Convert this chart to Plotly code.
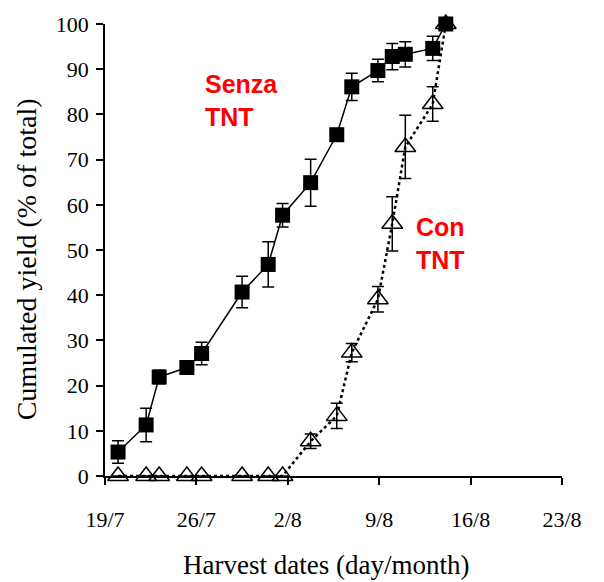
import plotly.graph_objects as go

# Days after 19/7 for each harvest
harvest_days = [1.0, 3.15, 4.15, 6.27, 7.4, 10.5, 12.5, 13.6, 15.75, 17.75, 18.9, 20.9, 22.0, 23.0, 25.1, 26.1]

senza_yield = [5.3, 11.3, 21.9, 24.0, 27.1, 40.7, 46.8, 57.7, 64.9, 75.5, 86.1, 89.7, 92.8, 93.3, 94.6, 100]
senza_err = [2.5, 3.7, 1.5, 1.2, 2.5, 3.5, 5.0, 2.6, 5.2, 0, 3.0, 2.5, 2.9, 2.8, 2.7, 0]

con_yield = [0, 0, 0, 0, 0, 0, 0, 0, 7.7, 13.3, 27.3, 39.1, 55.8, 72.8, 82.3, 100]
con_err = [0, 0, 0, 0, 0, 0, 0, 0, 1.6, 2.8, 2.0, 2.8, 6.0, 7.0, 3.8, 0]

tick_days = [0, 7, 14, 21, 28, 35]
tick_labels = ["19/7", "26/7", "2/8", "9/8", "16/8", "23/8"]

serif = "Liberation Serif, Times New Roman, serif"
sans = "Liberation Sans, Arial, sans-serif"

fig = go.Figure()

fig.add_trace(go.Scatter(
    x=harvest_days, y=con_yield, mode="lines+markers",
    line=dict(color="black", width=2.5, dash="dot"),
    marker=dict(symbol="triangle-up-open", size=18, color="black", line=dict(width=1.5, color="black")),
    error_y=dict(type="data", array=con_err, visible=True, color="black", thickness=1.5, width=6),
    cliponaxis=False, showlegend=False,
))

fig.add_trace(go.Scatter(
    x=harvest_days, y=senza_yield, mode="lines+markers",
    line=dict(color="black", width=1.5),
    marker=dict(symbol="square", size=15, color="black"),
    error_y=dict(type="data", array=senza_err, visible=True, color="black", thickness=1.5, width=6),
    cliponaxis=False, showlegend=False,
))

W, H = 604, 582
ml, mr, mt, mb = 105, 42, 17, 106
pw, ph = W - ml - mr, H - mt - mb

def px(xp):
    return (xp - ml) / pw

def py(yp):
    return (H - mb - yp) / ph

fig.update_layout(
    width=W, height=H,
    margin=dict(l=ml, r=mr, t=mt, b=mb),
    paper_bgcolor="white", plot_bgcolor="white",
    xaxis=dict(
        range=[0, 35], tickvals=tick_days, ticktext=tick_labels,
        showline=True, linecolor="black", linewidth=1.5,
        ticks="outside", ticklen=7, tickwidth=1.5, tickcolor="black",
        showgrid=False, zeroline=False, ticklabelstandoff=16,
        tickfont=dict(family=serif, size=22, color="black"),
    ),
    yaxis=dict(
        range=[0, 100], tickvals=list(range(0, 101, 10)),
        showline=True, linecolor="black", linewidth=1.5,
        ticks="outside", ticklen=7, tickwidth=1.5, tickcolor="black",
        showgrid=False, zeroline=False, ticklabelstandoff=3,
        tickfont=dict(family=serif, size=22, color="black"),
    ),
    annotations=[
        dict(text="Harvest dates (day/month)", xref="paper", yref="paper",
             x=px(326), y=py(566), xanchor="center", yanchor="middle", showarrow=False,
             font=dict(family=serif, size=27, color="black")),
        dict(text="Cumulated yield (% of total)", xref="paper", yref="paper",
             x=px(26), y=py(256), xanchor="center", yanchor="middle", showarrow=False,
             textangle=-90, font=dict(family=serif, size=28, color="black")),
        dict(text="<b>Senza</b><br><b>TNT</b>", xref="paper", yref="paper",
             x=px(203), y=py(62), xanchor="left", yanchor="top", align="left", showarrow=False,
             font=dict(family=sans, size=25, color="#ff0000")),
        dict(text="<b>Con</b><br><b>TNT</b>", xref="paper", yref="paper",
             x=px(414), y=py(207), xanchor="left", yanchor="top", align="left", showarrow=False,
             font=dict(family=sans, size=25, color="#ff0000")),
    ],
)

fig.write_html("out.html")
